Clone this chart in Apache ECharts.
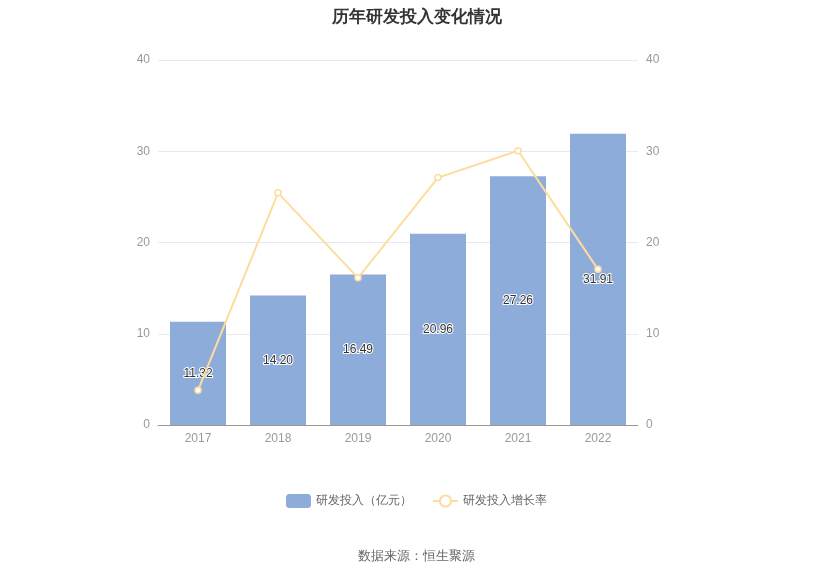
<!DOCTYPE html>
<html><head><meta charset="utf-8">
<script src="https://cdn.jsdelivr.net/npm/echarts@6/dist/echarts.min.js"></script>
<style>html,body{margin:0;padding:0;background:#fff}#c{width:833px;height:575px}</style>
</head><body><div id="c"></div>
<script>
const categories = ['2017','2018','2019','2020','2021','2022'];
const rdInvest = [11.32,14.20,16.49,20.96,27.26,31.91];
const growthRate = [3.8,25.44,16.13,27.11,30.06,17.06];
const chart = echarts.init(document.getElementById('c'));
const axisLabel = {color:'#999',fontSize:12};
chart.setOption({
  title:{text:'历年研发投入变化情况',left:'center',top:4,textStyle:{fontSize:17,fontWeight:'bold',color:'#333'}},
  grid:{left:158,right:195,top:60,bottom:150},
  legend:{bottom:62,left:'center',itemGap:20,textStyle:{color:'#666',fontSize:12},
    data:[{name:'研发投入（亿元）'},{name:'研发投入增长率'}]},
  graphic:[{type:'text',left:'center',bottom:12,style:{text:'数据来源：恒生聚源',fill:'#666',fontSize:13}}],
  xAxis:{type:'category',data:categories,axisTick:{show:false},axisLine:{lineStyle:{color:'#999'}},axisLabel:axisLabel},
  yAxis:[
    {type:'value',min:0,max:40,interval:10,axisLabel:axisLabel,splitLine:{lineStyle:{color:'#e6e9f0'}},axisLine:{show:false},axisTick:{show:false}},
    {type:'value',min:0,max:40,interval:10,axisLabel:axisLabel,splitLine:{show:false},axisLine:{show:false},axisTick:{show:false}}
  ],
  series:[
    {name:'研发投入（亿元）',type:'bar',data:rdInvest,barWidth:56,itemStyle:{color:'#8eacd9'},
     label:{show:true,position:'inside',color:'#333',fontSize:12,textBorderColor:'#fff',textBorderWidth:2,formatter:p=>p.value.toFixed(2)}},
    {name:'研发投入增长率',type:'line',yAxisIndex:1,data:growthRate,symbol:'circle',symbolSize:6,
     lineStyle:{color:'#fddd9e',width:2},itemStyle:{color:'#fff',borderColor:'#fddd9e',borderWidth:1.5}}
  ]
});
</script></body></html>
